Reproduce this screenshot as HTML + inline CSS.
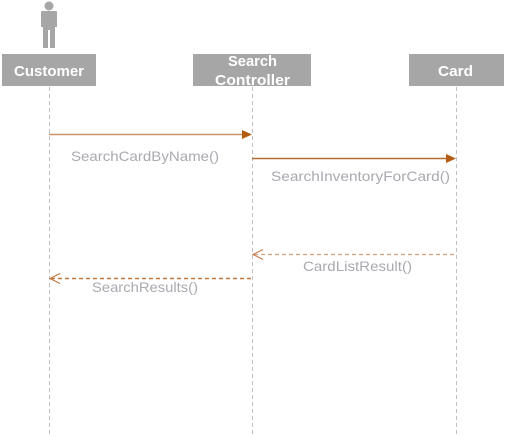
<!DOCTYPE html>
<html><head><meta charset="utf-8"><style>
html,body{margin:0;padding:0;background:#fff;}
svg{display:block;font-family:"Segoe UI","Liberation Sans",sans-serif;}
</style></head><body>
<svg width="505" height="437" viewBox="0 0 505 437" xmlns="http://www.w3.org/2000/svg">
<circle cx="49" cy="6" r="4.5" fill="#a6a6a6"/>
<path d="M41 12 Q41 11 42 11 L56 11 Q57 11 57 12 L57 27 L55 27 L55 48 L50 48 L50 30 L48 30 L48 48 L43 48 L43 27 L41 27 Z" fill="#a6a6a6"/>
<rect x="2" y="54" width="94" height="32" fill="#a6a6a6"/>
<rect x="193" y="54" width="118" height="32" fill="#a6a6a6"/>
<rect x="409" y="54" width="95" height="32" fill="#a6a6a6"/>
<g fill="#fff" font-weight="bold" font-size="15">
<text x="14" y="76" textLength="70" lengthAdjust="spacingAndGlyphs">Customer</text>
<text x="228" y="66" textLength="49" lengthAdjust="spacingAndGlyphs">Search</text>
<text x="215" y="85" textLength="75" lengthAdjust="spacingAndGlyphs">Controller</text>
<text x="438" y="76" textLength="35" lengthAdjust="spacingAndGlyphs">Card</text>
</g>
<g stroke="#c0c0c0" stroke-width="1" stroke-dasharray="4,3">
<line x1="49.5" y1="87" x2="49.5" y2="435"/>
<line x1="252.5" y1="87" x2="252.5" y2="435"/>
<line x1="456.5" y1="87" x2="456.5" y2="435"/>
</g>
<line x1="49" y1="134.5" x2="244" y2="134.5" stroke="#c8956a" stroke-width="1.5"/>
<polygon points="252,134.5 242,130 242,139" fill="#b35c12"/>
<line x1="252" y1="158.5" x2="448" y2="158.5" stroke="#b86a2c" stroke-width="1.5"/>
<polygon points="456,158.5 446,154 446,163" fill="#b35c12"/>
<line x1="254" y1="254.5" x2="456" y2="254.5" stroke="#d4a07a" stroke-width="1.2" stroke-dasharray="4,3"/>
<polyline points="263,249.5 253,254.5 263,259.5" fill="none" stroke="#c88050" stroke-width="1.2"/>
<line x1="51" y1="278.5" x2="252" y2="278.5" stroke="#c07a40" stroke-width="1.5" stroke-dasharray="4,3"/>
<polyline points="60,273.5 50,278.5 60,283.5" fill="none" stroke="#c07a40" stroke-width="1.2"/>
<g fill="#a9a9b0" font-size="14">
<text x="71" y="161" textLength="148" lengthAdjust="spacingAndGlyphs">SearchCardByName()</text>
<text x="271" y="181" textLength="179" lengthAdjust="spacingAndGlyphs">SearchInventoryForCard()</text>
<text x="303" y="271" textLength="109" lengthAdjust="spacingAndGlyphs">CardListResult()</text>
<text x="92" y="292" textLength="106" lengthAdjust="spacingAndGlyphs">SearchResults()</text>
</g>
</svg>
</body></html>
